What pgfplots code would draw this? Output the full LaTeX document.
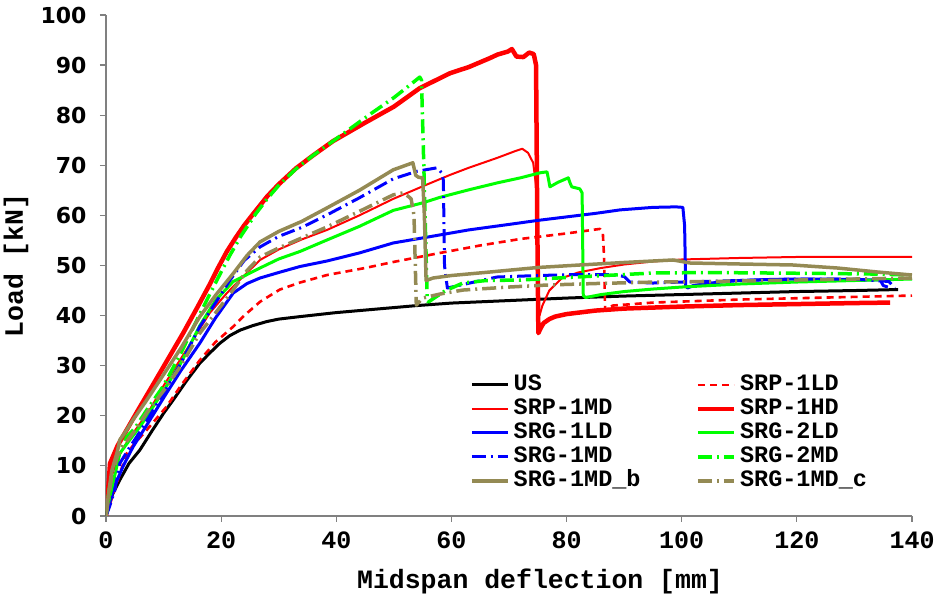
\documentclass[border=0pt]{standalone}
\usepackage{fontspec}
\usepackage{pgfplots}
\pgfplotsset{compat=1.18}
\setmainfont{Liberation Mono}
\newfontfamily\dejavu{DejaVu Sans}
\definecolor{khaki}{HTML}{948A54}
\definecolor{brightgreen}{RGB}{0,255,0}
\begin{document}
\begin{tikzpicture}
\useasboundingbox (-106pt,-78pt) rectangle (829pt,516pt);
\begin{axis}[
  at={(0,0)}, anchor=south west,
  scale only axis, width=806pt, height=501pt,
  xmin=0, xmax=140, ymin=0, ymax=100,
  xtick={0,20,...,140}, ytick={0,10,...,100},
  axis lines=left, axis line style={-, draw=gray, line width=1.2pt},
  tick align=outside, major tick length=6pt,
  tick style={draw=gray, line width=1.2pt},
  /pgf/number format/assume math mode=true,
  xticklabel style={font=\bfseries\fontsize{25}{25}\selectfont, yshift=-6pt},
  yticklabel style={font=\dejavu\bfseries\fontsize{22}{22}\selectfont, xshift=-10pt},
  xlabel={Midspan deflection [mm]},
  ylabel={Load [kN]},
  label style={font=\bfseries\fontsize{26.5}{26.5}\selectfont},
  xlabel style={at={(axis description cs:0.5385,-0.1457)}, anchor=base},
  ylabel style={at={(axis description cs:-0.103,0.5)}, anchor=base, rotate=0},
  legend columns=2,
  legend cell align=left,
  legend image code/.code={\draw[#1] (0pt,0pt) -- (36pt,0pt);},
  legend style={draw=none, fill=none, at={(axis cs:62.7,28.4)}, anchor=north west,
    font=\bfseries\fontsize{23.5}{23.5}\selectfont,
    nodes={inner sep=0pt, text height=15pt, text depth=3pt},
    row sep=6pt,
    /tikz/every odd column/.append style={column sep=4pt},
    /tikz/every even column/.append style={column sep=55pt}},
  every axis plot/.append style={line join=round},
]
% US
\addplot[black, line width=3pt] coordinates {
(0,0)(0.5,2)(1,4)(2.4,7.2)(4,10.5)(5.9,13.2)(8,17)(10,20.5)(11.7,23.2)(14,27)(16.3,30.5)(18,32.5)(19.8,34.5)(21.5,36)(23.3,37.1)(25.5,38)(27.9,38.8)(30,39.3)(33.7,39.8)(40,40.6)(50,41.6)(54,42)(60,42.5)(70,43)(80,43.5)(90,43.9)(100,44.2)(110,44.5)(120,44.8)(130,45)(137.6,45.2)};
\addlegendentry{US}
% SRP-1LD
\addplot[red, line width=2.6pt, dash pattern=on 7pt off 5pt] coordinates {
(0,0)(1,3.5)(2,7)(3.6,12.5)(5,14.5)(7.1,17.2)(10.5,21.8)(13,26)(16.3,31.1)(19,34.7)(22.1,37.8)(24,40)(26.8,42.8)(30.2,45.2)(33.7,46.6)(38.4,48.1)(45,49.5)(49.9,50.7)(58,52.5)(65,54)(72,55.3)(80,56.4)(85.8,57.3)(86.3,56.5)(86.5,52)(86.7,41)(88,42)(95,42.6)(110,43.2)(125,43.6)(140,44)};
\addlegendentry{SRP-1LD}
% SRP-1MD
\addplot[red, line width=2pt] coordinates {
(0,0)(0.5,5)(1,8)(2,11.5)(3.5,14.5)(5,17)(7.5,21)(10,26)(15,35)(18,40.5)(21,44.5)(24,48)(26.75,51.1)(30,53.2)(34,55.2)(38.4,57.1)(44,60)(49.9,63.3)(55,65.8)(59.8,68.1)(63,69.5)(68,71.5)(71,72.8)(72.3,73.3)(73.3,72.5)(74.2,70.5)(74.8,65)(75,42)(75.3,40)(75.8,42)(77,45)(79.2,47.5)(82,48.6)(86,49.5)(90,50.2)(95,50.8)(100,51.2)(110,51.5)(120,51.7)(130,51.7)(140,51.7)};
\addlegendentry{SRP-1MD}
% SRP-1HD
\addplot[red, line width=4.5pt] coordinates {
(0,0)(0.3,4)(0.7,10.5)(2,14)(3.6,17.2)(5.5,21)(7.6,25.1)(10.5,30.8)(13.4,36.5)(15.8,41.5)(18.1,46.4)(19.5,49.6)(21,52.8)(22.5,55.5)(24,58)(25.5,60.2)(26.75,62)(28,63.8)(30,66.2)(33,69.4)(36,72)(39.4,74.8)(45,78.5)(50,81.7)(54.5,85.4)(59.8,88.4)(63,89.6)(66.7,91.4)(68,92.1)(69.8,92.7)(70.5,93.2)(71.3,91.7)(72.5,91.6)(73.5,92.5)(74.3,92.2)(74.7,90)(74.9,60)(75.1,36.5)(75.5,37.5)(76,38.5)(77,39.3)(78,39.8)(80,40.3)(85,41)(90,41.4)(100,41.8)(110,42.1)(120,42.3)(130,42.5)(136.2,42.6)};
\addlegendentry{SRP-1HD}
% SRG-1LD
\addplot[blue, line width=3pt] coordinates {
(0,0)(0.5,2)(1.5,6)(3,10)(4.7,13.8)(7,18)(10.5,24.5)(13,29)(16.3,34.5)(19,39.5)(22.1,44.5)(24.5,46.4)(26.75,47.5)(30,48.6)(33.7,49.8)(38.4,50.9)(44,52.5)(49.9,54.5)(55,55.5)(58,56.1)(63,57.1)(70,58.2)(75,59)(80,59.7)(85,60.4)(89.3,61.1)(95,61.6)(99,61.7)(100.2,61.6)(100.5,58)(100.7,46)(101,45.5)(102,46)(105,46.5)(110,47)(115,47.2)(120,47.3)(125,47.3)(130,47.2)(134.5,47.1)(135,46)(135.8,45.7)};
\addlegendentry{SRG-1LD}
% SRG-2LD
\addplot[brightgreen, line width=3pt] coordinates {
(0,0)(0.5,3)(1.5,8)(2.4,12.5)(4,15)(6,18)(8,21.5)(10,25)(13,30.5)(16.3,38)(19,43)(22.1,46.8)(26.75,49.5)(30,51.3)(33.7,52.8)(38.4,55.1)(44,57.8)(49.9,61)(55,62.5)(58,63.6)(63,65.1)(68,66.5)(72,67.5)(75.4,68.5)(76.6,68.7)(76.9,67)(77.1,65.7)(78.5,66.6)(80.3,67.5)(80.6,66.5)(80.9,65.7)(82.3,65.3)(82.7,64.5)(82.9,44)(83.3,43.6)(86,44.2)(90,44.8)(95,45.3)(100,45.7)(110,46.3)(120,46.7)(130,47)(140,47.3)};
\addlegendentry{SRG-2LD}
% SRG-1MD
\addplot[blue, line width=3pt, dash pattern=on 14pt off 5pt on 2pt off 5pt] coordinates {
(0,0)(0.5,1.5)(1.5,5)(2.4,10.5)(4,13.5)(6,17)(10,24.5)(13,30.5)(16.3,37.8)(19,42.5)(21.5,47)(24,51)(26.75,53.7)(30,55.8)(34,57.6)(38.4,60.1)(44,63.5)(49.9,67.3)(54,68.8)(57.5,69.5)(58.3,68.5)(58.6,67)(58.8,50)(59,48)(59.3,45.5)(62,46.2)(67.9,47.7)(75,48)(82,48.2)(88,48.2)(90,47.8)(91,46.7)(95,46.5)(100,46.7)(110,47)(120,47.3)(130,47.3)(136,46.8)(137,45.5)};
\addlegendentry{SRG-1MD}
% SRG-2MD
\addplot[brightgreen, line width=3.5pt, dash pattern=on 14pt off 5pt on 2pt off 5pt] coordinates {
(0,0)(0.5,5)(1.5,10)(2.5,13)(3.6,15.8)(5,17.5)(7,21)(10,26)(13,32.5)(16.3,40.3)(18,44.2)(19.5,47.6)(21.5,52)(23.5,56)(26,60.3)(28,63.3)(30,66)(33,69.3)(36,72)(39.4,74.8)(43,77.8)(46,80.3)(50,83.5)(52,85.3)(54.5,87.6)(54.8,87)(55.2,70)(55.8,43)(56,42.7)(57,43.5)(59,45)(62,46.5)(66,47)(72,47.1)(80,47.6)(90,48.2)(95,48.5)(105,48.6)(115,48.5)(125,48.4)(133,48.3)(140,48.1)};
\addlegendentry{SRG-2MD}
% SRG-1MD_b
\addplot[khaki, line width=3.5pt] coordinates {
(0,0)(0.5,5)(1,9)(2,13)(2.4,15.2)(3.5,17)(4.7,19.2)(7,23)(10.5,29.1)(13,33.5)(16.3,39.8)(19,44)(22.1,48.4)(24.5,52)(26.75,54.7)(30,56.8)(34,58.8)(38.4,61.5)(44,65)(49.9,69.1)(53.3,70.5)(53.8,68)(54.3,67.6)(55,67.5)(55.3,60)(55.6,47)(56.8,47.5)(60,48)(66.7,48.7)(75,49.6)(82.3,50.1)(90,50.6)(98.5,51.1)(100,50.8)(101.4,50.5)(110,50.3)(119.3,50.1)(127,49.5)(134,48.7)(140,48.1)};
\addlegendentry{SRG-1MD\_b}
% SRG-1MD_c
\addplot[khaki, line width=3.5pt, dash pattern=on 14pt off 5pt on 2pt off 5pt] coordinates {
(0,0)(0.5,4)(1,8)(2,12)(3,14)(5,17)(7,20.5)(10,25)(13,30)(16.3,36.5)(19,40.5)(22,45)(24.5,49)(26.75,51.7)(30,53.5)(34,55.5)(38.4,57.7)(44,60.8)(49.9,64.1)(51.6,64.5)(52.5,63.8)(53,63.3)(53.5,60)(53.9,42.1)(55,43.5)(58,44.3)(62,45.1)(70,45.7)(76.6,46.1)(85,46.4)(95.7,46.7)(105,46.8)(120,47.1)(140,47.5)};
\addlegendentry{SRG-1MD\_c}
\end{axis}
\end{tikzpicture}
\end{document}
